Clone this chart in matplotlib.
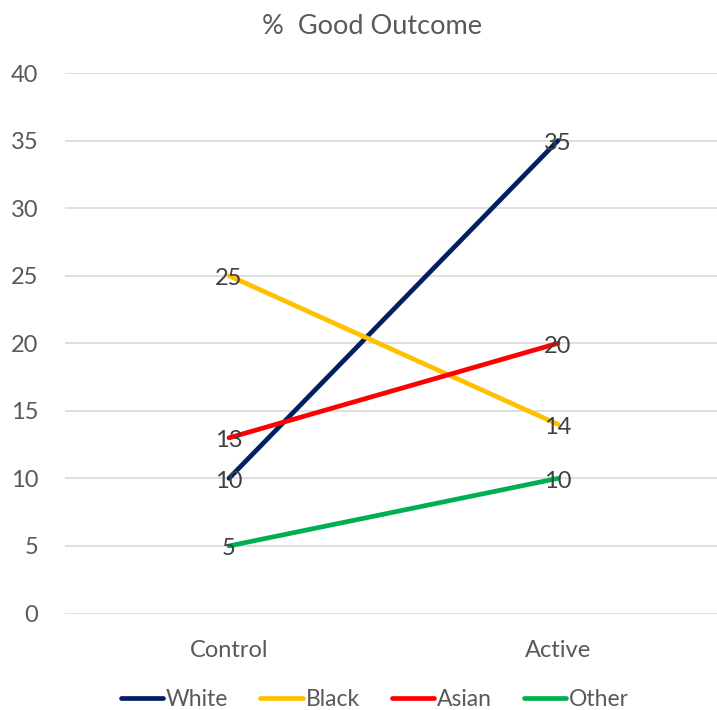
import matplotlib
matplotlib.use("Agg")
import matplotlib.pyplot as plt
from matplotlib.lines import Line2D

plt.rcParams['font.family'] = ['Lato', 'DejaVu Sans']

# Data
categories = ["Control", "Active"]
series_names = ["White", "Black", "Asian", "Other"]
white = [10, 35]
black = [25, 14]
asian = [13, 20]
other = [5, 10]
colors = ["#002060", "#FFC000", "#FF0000", "#00B050"]
yticks = [0, 5, 10, 15, 20, 25, 30, 35, 40]

W, H = 717, 710
fig = plt.figure(figsize=(W / 100, H / 100), dpi=100)
ax = fig.add_axes([64.5 / W, 1 - 613.5 / H, 1 - 64.5 / W, (613.5 - 73) / H])

x = list(range(len(categories)))
all_series = [white, black, asian, other]
for vals, col in zip(all_series, colors):
    ax.plot(x, vals, color=col, lw=3.4, solid_capstyle='round', zorder=3)
for vals in all_series:
    for xi, v in zip(x, vals):
        ax.annotate(f"{v}", (xi, v), xytext=(0, -2), textcoords='offset points',
                    ha='center', va='center', fontsize=17,
                    color='#404040', zorder=4)

ax.set_ylim(0, 40)
ax.set_xlim(-0.5, (W - 229) / 329)
ax.set_yticks(yticks)
ax.set_xticks(x)
ax.set_xticklabels(categories)
ax.tick_params(axis='both', length=0, labelsize=17, colors='#595959')
ax.tick_params(axis='y', pad=19)
ax.tick_params(axis='x', pad=19)
ax.grid(axis='y', color='#D9D9D9', lw=1.2)
ax.set_axisbelow(True)
for s in ax.spines.values():
    s.set_visible(False)

fig.text(372 / W, 1 - 27 / H, "%  Good Outcome", ha='center', va='center',
         fontsize=19.5, color='#595959')

handles = [Line2D([0], [0], color=c, lw=3.4, solid_capstyle='round') for c in colors]
fig.legend(handles, series_names, loc='center', bbox_to_anchor=(375 / W, 1 - 700 / H),
           ncol=4, frameon=False, fontsize=16.5, labelcolor='#595959',
           handlelength=1.85, handletextpad=0.12, columnspacing=1.4)

fig.savefig("out.png", dpi=100)
